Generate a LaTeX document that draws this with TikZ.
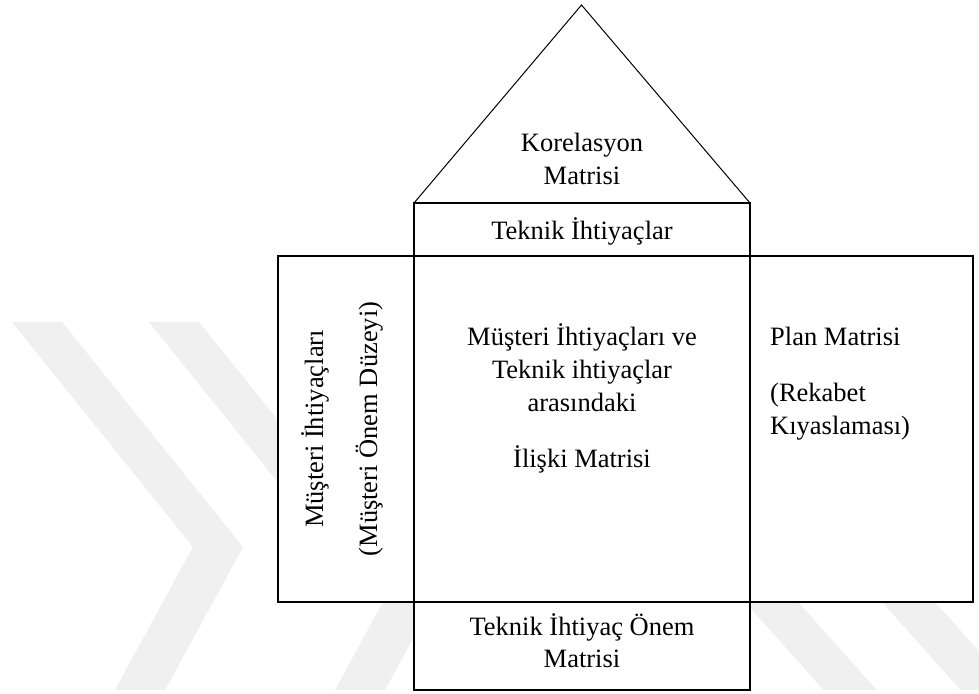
\documentclass[tikz,border=0pt]{standalone}
\usepackage{fontspec}
\setmainfont{Liberation Serif}
\begin{document}
\begin{tikzpicture}[x=1pt,y=-1pt,
  box/.style={draw=black, line width=1.4pt, fill=white},
  roof/.style={draw=black, line width=1pt, line join=miter},
  wm/.style={fill=black!6, draw=none},
  lbl/.style={inner sep=0pt, font=\fontsize{26.5}{33}\selectfont, anchor=base}]
\useasboundingbox (0,0) rectangle (979,693);
\fill[white] (0,0) rectangle (979,693);
% faint background watermark
\begin{scope}
\clip (0,0) rectangle (979,693);
\fill[wm] (12,322) -- (62,322) -- (243,547) -- (165,690) -- (115,690) -- (193,547) -- cycle;
\fill[wm] (149,322) -- (199,322) -- (420,597) -- (370,597) -- cycle;
\fill[wm] (335,690) -- (385,690) -- (445,580) -- (395,580) -- cycle;
\fill[wm] (495,322) -- (548,322) -- (876.6,690) -- (823.6,690) -- cycle;
\fill[wm] (632,322) -- (685,322) -- (1013.6,690) -- (960.6,690) -- cycle;
\end{scope}
% house
\coordinate (apex) at (581.5,5);
\coordinate (roofL) at (414,203);
\coordinate (roofR) at (750,203);
\draw[roof] (roofL) -- (apex) -- (roofR);
\draw[box] (414,203) rectangle (750,256);
\draw[box] (278,256) rectangle (414,602);
\draw[box] (414,256) rectangle (750,602);
\draw[box] (750,256) rectangle (973,602);
\draw[box] (414,602) rectangle (750,690);
% texts
\node[lbl] (kor1) at (582,151) {Korelasyon};
\node[lbl] (kor2) at (582,184) {Matrisi};
\node[lbl] (tek) at (582,239) {Teknik İhtiyaçlar};
\node[lbl] (c1) at (582,345) {Müşteri İhtiyaçları ve};
\node[lbl] (c2) at (582,378) {Teknik ihtiyaçlar};
\node[lbl] (c3) at (582,411) {arasındaki};
\node[lbl] (c4) at (582,467) {İlişki Matrisi};
\node[lbl, anchor=base west] (p1) at (770,345) {Plan Matrisi};
\node[lbl, anchor=base west] (p2) at (770,401) {(Rekabet};
\node[lbl, anchor=base west] (p3) at (770,434) {Kıyaslaması)};
\node[lbl, rotate=90] (m1) at (323,429) {Müşteri İhtiyaçları};
\node[lbl, rotate=90] (m2) at (377,429) {(Müşteri Önem Düzeyi)};
\node[lbl] (b1) at (582,635) {Teknik İhtiyaç Önem};
\node[lbl] (b2) at (582,667) {Matrisi};
\end{tikzpicture}
\end{document}
